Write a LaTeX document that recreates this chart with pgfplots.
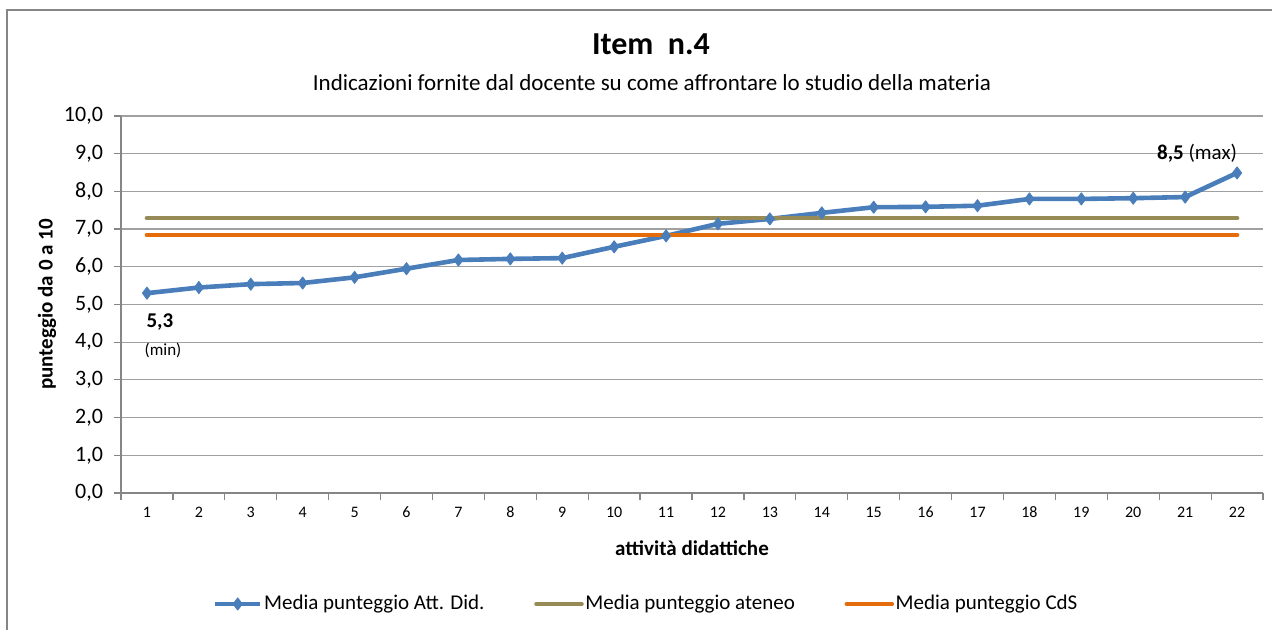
\documentclass[border=0pt]{standalone}
\usepackage{pgfplots}
\pgfplotsset{compat=1.18}
\usepackage{fontspec}
\setmainfont{Carlito}
\definecolor{blueL}{RGB}{74,126,187}
\definecolor{oliveL}{RGB}{150,139,86}
\definecolor{orangeL}{RGB}{228,108,10}
\definecolor{axgray}{RGB}{134,134,134}
\definecolor{gridgray}{RGB}{160,160,160}
\begin{document}
\begin{tikzpicture}[x=1pt,y=1pt]
\useasboundingbox (-60.5,-68.5) rectangle (575.5,246.5);
\draw[axgray, line width=0.8pt] (-57,-80) -- (-57,241.5) -- (600,241.5);
\begin{axis}[
  at={(0pt,0pt)}, anchor=south west,
  scale only axis, width=571pt, height=188.5pt,
  xmin=0.5, xmax=22.5, ymin=0, ymax=10,
  axis x line*=bottom, axis y line*=left,
  axis line style={draw=axgray, line width=0.8pt, -},
  clip=false,
  xtick={1,...,22},
  minor xtick={0.5,1.5,...,22.5},
  major x tick style={draw=none},
  minor x tick style={draw=axgray, line width=0.6pt},
  y tick style={draw=axgray, line width=0.6pt},
  tick align=outside,
  major tick length=3.5pt, minor tick length=3.5pt,
  ytick={0,1,...,10},
  ymajorgrids,
  grid style={gridgray, line width=0.6pt},
  yticklabel style={font=\fontsize{11}{13}\selectfont, xshift=-2pt, /pgf/number format/.cd, fixed, fixed zerofill, precision=1, use comma, assume math mode=true},
  xticklabel style={font=\fontsize{8}{10}\selectfont, /pgf/number format/assume math mode=true},
  ylabel={punteggio da 0 a 10},
  ylabel style={font=\bfseries\fontsize{10.5}{12}\selectfont, at={(axis description cs:-0.0648,0.5)}, anchor=center},
  xlabel={attività didattiche},
  xlabel style={font=\bfseries\fontsize{10.5}{12}\selectfont, at={(axis description cs:0.5,-0.1459)}, anchor=center},
  legend columns=3,
  legend style={at={(axis description cs:0.4597,-0.2944)}, anchor=center, draw=none, fill=none,
    font=\fontsize{10.5}{12}\selectfont, nodes={inner xsep=0.8pt},
    /tikz/every even column/.append style={column sep=24pt}},
  legend image code/.code={\draw[#1, mark repeat=2, mark phase=2] plot coordinates {(0pt,0pt) (11.25pt,0pt) (22.5pt,0pt)};},
]
\addplot[blueL, line width=2.3pt, line join=round, mark=diamond*, mark size=3pt, mark options={solid, line width=0.5pt}] coordinates {
(1,5.30) (2,5.45) (3,5.54) (4,5.57) (5,5.72) (6,5.95) (7,6.18) (8,6.21) (9,6.23) (10,6.53) (11,6.82)
(12,7.14) (13,7.27) (14,7.43) (15,7.58) (16,7.59) (17,7.62) (18,7.80) (19,7.80) (20,7.82) (21,7.85) (22,8.49)};
\addlegendentry{Media punteggio Att. Did.}
\addplot[oliveL, line width=2.3pt, line cap=round] coordinates {(1,7.29) (22,7.29)};
\addlegendentry{Media punteggio ateneo}
\addplot[orangeL, line width=2.3pt, line cap=round] coordinates {(1,6.84) (22,6.84)};
\addlegendentry{Media punteggio CdS}
\node[font=\bfseries\fontsize{10.5}{12}\selectfont] at (axis cs:1.25,4.53) {5,3};
\node[font=\fontsize{8.5}{10}\selectfont] at (axis cs:1.31,3.78) {(min)};
\node[font=\fontsize{10.5}{12}\selectfont] at (axis cs:21.23,9.02) {\textbf{8,5} (max)};
\end{axis}
\node[font=\bfseries\fontsize{16}{19}\selectfont] at (265,224.5) {Item\ \ n.4};
\node[font=\fontsize{11.5}{13}\selectfont] at (265.5,205) {Indicazioni fornite dal docente su come affrontare lo studio della materia};
\end{tikzpicture}
\end{document}
